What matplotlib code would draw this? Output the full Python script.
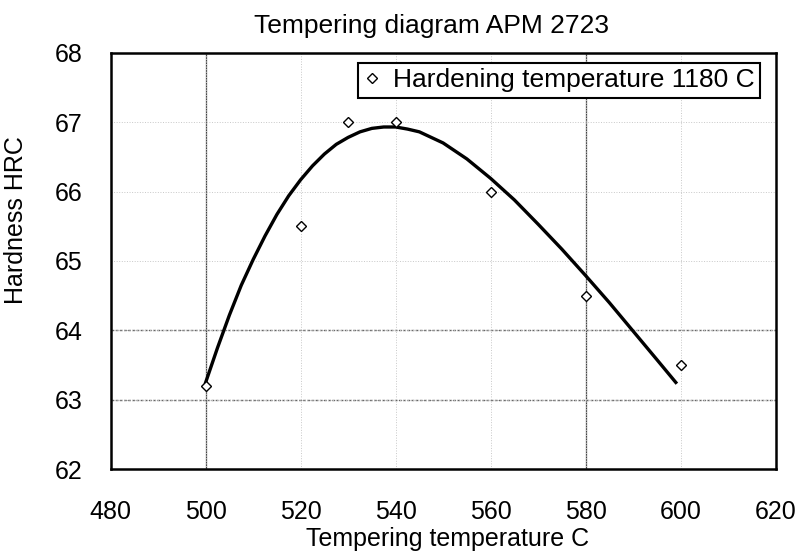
import matplotlib
matplotlib.use("Agg")
from matplotlib import pyplot as plt

# measured hardness after tempering
temp = [500, 520, 530, 540, 560, 580, 600]
hardness = [63.2, 65.5, 67.0, 67.0, 66.0, 64.5, 63.5]

# trend curve
trend_temp = [500, 502.5, 505, 507.5, 510, 512.5, 515, 517.5, 520, 522.5, 525,
              527.5, 530, 532.5, 535, 537.5, 540, 542.5, 545, 550,
              555, 560, 565, 570, 575, 580, 585, 590, 595, 599]
trend_hrc = [63.25, 63.75, 64.22, 64.65, 65.02, 65.36, 65.67, 65.94, 66.17,
             66.37, 66.54, 66.68, 66.78, 66.86, 66.91, 66.93, 66.93, 66.90,
             66.86, 66.70, 66.47, 66.19, 65.88, 65.53, 65.17, 64.79, 64.40,
             63.99, 63.58, 63.25]

x_ticks = [480, 500, 520, 540, 560, 580, 600, 620]
y_ticks = [62, 63, 64, 65, 66, 67, 68]

plt.rcParams['font.family'] = ['Liberation Sans', 'DejaVu Sans']

fig = plt.figure(figsize=(8.02, 5.52), dpi=100)
ax = fig.add_axes([0.138, 0.150, 0.829, 0.7545])

# faint grid, a few lines came out stronger in the print
ax.grid(True, color='#c8c8c8', linestyle=':', linewidth=0.7)
for gx in [500, 580]:
    ax.axvline(gx, color='#444444', linewidth=0.9, zorder=1)
for gy in [63, 64]:
    ax.axhline(gy, color='#666666', linewidth=1.0, linestyle=(0, (2, 1)), zorder=1)

ax.plot(trend_temp, trend_hrc, color='black', linewidth=2.4, zorder=3,
        solid_joinstyle='round')
ax.plot(temp, hardness, linestyle='none', marker='D', markersize=5.5,
        markerfacecolor='white', markeredgecolor='black', markeredgewidth=1.0,
        label='Hardening temperature 1180 C', zorder=4)

ax.set_xlim(480, 620)
ax.set_ylim(62, 68)
ax.set_xticks(x_ticks)
ax.set_yticks(y_ticks)
ax.tick_params(axis='both', length=0, labelsize=18)
ax.tick_params(axis='x', pad=22)
ax.tick_params(axis='y', pad=20)
for sp in ax.spines.values():
    sp.set_linewidth(1.8)

ax.set_ylabel('Hardness HRC', fontsize=18)
ax.yaxis.set_label_coords(-0.125, 0.598)

fig.text(0.538, 0.9397, 'Tempering diagram APM 2723', fontsize=19,
         ha='center', va='baseline')
fig.text(0.558, 0.0114, 'Tempering temperature C', fontsize=18,
         ha='center', va='baseline')

leg = ax.legend(loc='upper right', bbox_to_anchor=(0.976, 0.975),
                borderaxespad=0, fontsize=19, handlelength=0.6,
                handletextpad=0.5, borderpad=0.2, fancybox=False,
                edgecolor='black', framealpha=1)
leg.get_frame().set_linewidth(1.5)

fig.savefig('out.png', dpi=100)
